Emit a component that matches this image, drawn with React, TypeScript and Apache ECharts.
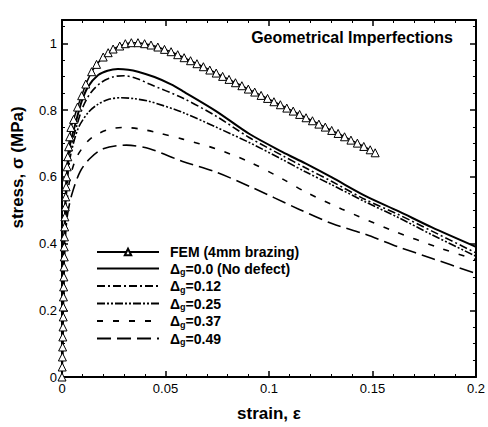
import React, { useEffect, useRef } from "react";
import * as echarts from "echarts";

const seriesNames = [
  "FEM (4mm brazing)",
  "Δg=0.0 (No defect)",
  "Δg=0.12",
  "Δg=0.25",
  "Δg=0.37",
  "Δg=0.49",
];

const xTicks = [0, 0.05, 0.1, 0.15, 0.2];
const yTicks = [0, 0.2, 0.4, 0.6, 0.8, 1];

const femData = [
  [0, 0], [0.0001, 0.03], [0.0002, 0.06], [0.0003, 0.09], [0.0004, 0.12], [0.0005, 0.15],
  [0.0006, 0.18], [0.0006, 0.21], [0.0007, 0.24], [0.0008, 0.27], [0.0009, 0.3], [0.001, 0.33],
  [0.0011, 0.36], [0.0011, 0.39], [0.0012, 0.42], [0.0013, 0.45], [0.0014, 0.48], [0.0016, 0.51],
  [0.0018, 0.54], [0.002, 0.57], [0.0022, 0.6], [0.0025, 0.63], [0.0028, 0.66], [0.0032, 0.69],
  [0.0037, 0.72], [0.0043, 0.748], [0.0056, 0.772], [0.0075, 0.809], [0.0095, 0.843],
  [0.0115, 0.878], [0.0143, 0.915], [0.0167, 0.937], [0.0199, 0.959], [0.0223, 0.972],
  [0.0247, 0.983], [0.0279, 0.992], [0.0306, 0.999], [0.0335, 1.002], [0.0367, 1.002],
  [0.0399, 0.999], [0.043, 0.995], [0.0463, 0.989], [0.0495, 0.982], [0.0527, 0.975],
  [0.0559, 0.966], [0.059, 0.957], [0.0621, 0.948], [0.0652, 0.939], [0.0683, 0.930],
  [0.0714, 0.920], [0.0745, 0.911], [0.0776, 0.901], [0.0807, 0.892], [0.0838, 0.882],
  [0.0869, 0.873], [0.09, 0.863], [0.0931, 0.854], [0.0962, 0.844], [0.0993, 0.835],
  [0.1024, 0.825], [0.1055, 0.816], [0.1086, 0.806], [0.1117, 0.797], [0.1148, 0.787],
  [0.1179, 0.777], [0.121, 0.768], [0.1241, 0.758], [0.1272, 0.749], [0.1303, 0.739],
  [0.1334, 0.730], [0.1365, 0.720], [0.1396, 0.710], [0.1427, 0.701], [0.1458, 0.691],
  [0.1489, 0.681], [0.1513, 0.672],
];

const g000Data = [
  [0, 0], [0.0008, 0.3], [0.0015, 0.5], [0.0025, 0.62], [0.004, 0.70], [0.0063, 0.755],
  [0.0095, 0.826], [0.0127, 0.871], [0.0175, 0.905], [0.022, 0.918], [0.027, 0.923],
  [0.032, 0.921], [0.0367, 0.915], [0.0447, 0.899], [0.0527, 0.877], [0.0583, 0.857],
  [0.0744, 0.797], [0.0904, 0.729], [0.1064, 0.675], [0.1176, 0.640], [0.1304, 0.598],
  [0.1465, 0.543], [0.1625, 0.497], [0.1785, 0.449], [0.2, 0.39],
];

const g012Data = [
  [0, 0], [0.0008, 0.3], [0.0015, 0.48], [0.0025, 0.6], [0.004, 0.68], [0.007, 0.75],
  [0.01, 0.808], [0.014, 0.853], [0.019, 0.883], [0.025, 0.9], [0.03, 0.903], [0.036, 0.895],
  [0.0423, 0.878], [0.0583, 0.836], [0.0744, 0.782], [0.0904, 0.718], [0.1064, 0.664],
  [0.1176, 0.627], [0.1304, 0.586], [0.1465, 0.532], [0.1625, 0.487], [0.1785, 0.438],
  [0.2, 0.372],
];

const g025Data = [
  [0, 0], [0.0008, 0.3], [0.0015, 0.47], [0.0025, 0.58], [0.004, 0.66], [0.0078, 0.745],
  [0.0127, 0.793], [0.0175, 0.818], [0.023, 0.833], [0.0287, 0.837], [0.035, 0.834],
  [0.0423, 0.826], [0.0583, 0.793], [0.0744, 0.749], [0.0904, 0.703], [0.1064, 0.652],
  [0.1176, 0.615], [0.1304, 0.576], [0.1465, 0.525], [0.1625, 0.478], [0.1785, 0.427],
  [0.2, 0.362],
];

const g037Data = [
  [0, 0], [0.0008, 0.28], [0.0015, 0.43], [0.0025, 0.53], [0.004, 0.6], [0.007, 0.658],
  [0.0119, 0.703], [0.0159, 0.724], [0.023, 0.743], [0.0303, 0.748], [0.038, 0.743],
  [0.0455, 0.733], [0.0583, 0.713], [0.0744, 0.684], [0.0904, 0.645], [0.1064, 0.594],
  [0.1176, 0.555], [0.1353, 0.503], [0.1593, 0.44], [0.1833, 0.385], [0.2, 0.352],
];

const g049Data = [
  [0, 0], [0.0008, 0.27], [0.0015, 0.4], [0.0025, 0.48], [0.0047, 0.546], [0.0087, 0.615],
  [0.0135, 0.655], [0.0199, 0.684], [0.0311, 0.695], [0.0423, 0.684], [0.0583, 0.646],
  [0.0744, 0.614], [0.0904, 0.572], [0.1144, 0.503], [0.1304, 0.46], [0.1465, 0.428],
  [0.1625, 0.39], [0.1785, 0.356], [0.2, 0.31],
];

const FONT = "'Liberation Sans', Arial, Helvetica, sans-serif";

export default function App() {
  const ref = useRef<HTMLDivElement>(null);
  useEffect(() => {
    if (!ref.current) return;
    const chart = echarts.init(ref.current, null, { renderer: "svg" });
    const axisCommon = {
      type: "value" as const,
      axisLine: { show: true, onZero: false, lineStyle: { color: "#000", width: 2 } },
      axisTick: { show: true, inside: true, length: 6, lineStyle: { color: "#000", width: 1.5 } },
      minorTick: { show: true, length: 3, lineStyle: { color: "#000", width: 1 } },
      splitLine: { show: false },
      minorSplitLine: { show: false },
    };
    const fmtY = (v: number) =>
      yTicks.some((t) => Math.abs(t - v) < 1e-6) ? String(v === 0 ? 0 : +v.toFixed(2)) : "";
    const fmtX = (v: number) =>
      xTicks.some((t) => Math.abs(t - v) < 1e-6) ? String(+v.toFixed(2)) : "";
    const dashes: any[] = [
      "solid",
      "solid",
      [8, 3, 2, 3],
      [8, 2, 2, 2, 2, 2],
      [6, 10],
      [14, 6],
    ];
    const datas = [femData, g000Data, g012Data, g025Data, g037Data, g049Data];
    const series = seriesNames.map((name, i) => {
      const base: any = {
        name,
        type: "line",
        data: datas[i],
        xAxisIndex: 0,
        yAxisIndex: 0,
        smooth: i === 0 ? false : 0.3,
        lineStyle: { color: "#000", width: i === 0 ? 1.5 : i === 1 ? 2 : 1.6, type: dashes[i] },
        itemStyle: { color: "rgba(0,0,0,0)", borderWidth: 0 },
        symbol: "none",
        z: 2,
      };
      if (i === 0) {
        base.symbol = "triangle";
        base.symbolSize = 8;
        base.showAllSymbol = true;
        base.itemStyle = { color: "#fff", borderColor: "#000", borderWidth: 1 };
        base.z = 3;
      }
      return base;
    });
    chart.setOption({
      animation: false,
      backgroundColor: "#fff",
      title: {
        text: "Geometrical Imperfections",
        right: 30,
        top: 24,
        textStyle: { fontFamily: FONT, fontWeight: "bold", fontSize: 16, color: "#000" },
      },
      grid: { left: 62, right: 10, top: 20, bottom: 47 },
      legend: {
        orient: "vertical",
        left: 96,
        top: 245,
        padding: 0,
        itemWidth: 62,
        itemHeight: 8,
        itemGap: 2.5,
        data: seriesNames,
        formatter: (name: string) =>
          name.startsWith("Δg")
            ? `{b|Δ}{s|g}{b|${name.slice(2)}}`
            : `{b|${name}}`,
        textStyle: {
          fontFamily: FONT,
          fontWeight: "bold",
          fontSize: 14,
          color: "#000",
          padding: [0, 0, 0, 6],
          rich: {
            b: { fontFamily: FONT, fontWeight: "bold", fontSize: 14, color: "#000", lineHeight: 16 },
            s: { fontFamily: FONT, fontWeight: "bold", fontSize: 9, color: "#000", lineHeight: 8, verticalAlign: "bottom" },
          },
        },
      },
      xAxis: [
        {
          ...axisCommon,
          position: "bottom",
          min: 0,
          max: 0.2,
          interval: 0.05,
          minorTick: { ...axisCommon.minorTick, splitNumber: 5 },
          axisLabel: { show: true, formatter: fmtX, color: "#000", fontFamily: FONT, fontSize: 13, margin: 5 },
          name: "strain, ε",
          nameLocation: "middle",
          nameGap: 28,
          nameTextStyle: { fontFamily: FONT, fontWeight: "bold", fontSize: 17, color: "#000" },
        },
        {
          ...axisCommon,
          position: "top",
          min: 0,
          max: 0.2,
          interval: 0.05,
          minorTick: { ...axisCommon.minorTick, splitNumber: 5 },
          axisLabel: { show: false },
        },
      ],
      yAxis: [
        {
          ...axisCommon,
          position: "left",
          min: 0,
          max: 1.07,
          interval: 0.2,
          minorTick: { ...axisCommon.minorTick, splitNumber: 4 },
          axisLabel: { show: true, formatter: fmtY, color: "#000", fontFamily: FONT, fontSize: 13, margin: 5 },
          name: "stress, σ (MPa)",
          nameLocation: "middle",
          nameRotate: 90,
          nameGap: 36,
          nameTextStyle: { fontFamily: FONT, fontWeight: "bold", fontSize: 17, color: "#000", padding: [0, 0, 0, 62] },
        },
        {
          ...axisCommon,
          position: "right",
          min: 0,
          max: 1.07,
          interval: 0.2,
          minorTick: { ...axisCommon.minorTick, splitNumber: 4 },
          axisLabel: { show: false },
        },
      ],
      series,
    });
    return () => chart.dispose();
  }, []);
  return (
    <div
      ref={ref}
      style={{ position: "fixed", left: 0, top: 0, width: 488, height: 427, background: "#fff" }}
    />
  );
}
